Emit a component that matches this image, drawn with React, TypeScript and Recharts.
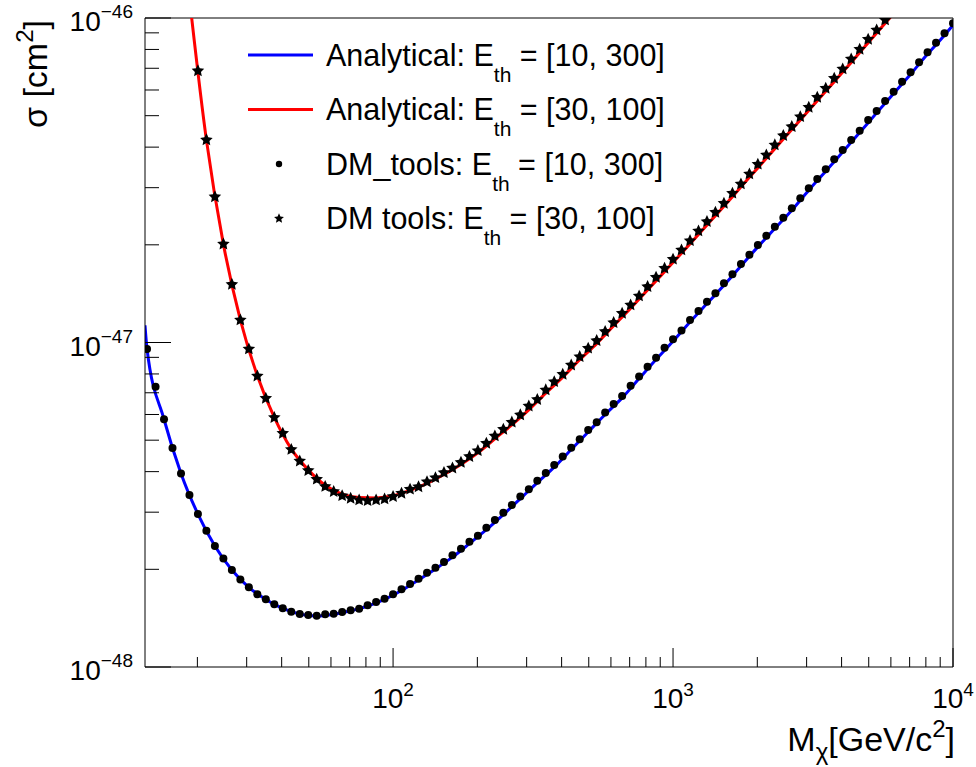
import {
  ComposedChart,
  Line,
  Scatter,
  XAxis,
  YAxis,
  Legend,
  Label,
  ReferenceLine,
} from 'recharts';

// cross sections are stored in units of 1e-48 cm^2

// masses (GeV/c^2) where the DM_tools points sit
const massGrid = [
  13.22, 14.18, 15.2, 16.3, 17.48, 18.74, 20.09, 21.54, 23.1, 24.77, 26.56, 28.48, 30.54, 32.75,
  35.11, 37.65, 40.37, 43.29, 46.42, 49.77, 53.37, 57.22, 61.36, 65.79, 70.55, 75.65, 81.11, 86.98,
  93.26, 100, 107.2, 115.0, 123.3, 132.2, 141.7, 152.0, 163.0, 174.8, 187.4, 200.9, 215.4, 231.0,
  247.7, 265.6, 284.8, 305.4, 327.5, 351.1, 376.5, 403.7, 432.9, 464.2, 497.7, 533.7, 572.2, 613.6,
  657.9, 705.5, 756.5, 811.1, 869.7, 932.6, 1000, 1072, 1150, 1233, 1322, 1417, 1520, 1630, 1748,
  1874, 2009, 2154, 2310, 2477, 2656, 2848, 3054, 3275, 3511, 3765, 4037, 4329, 4642, 4977, 5337,
  5722, 6136, 6579, 7055, 7565, 8111, 8697, 9326, 10000,
];

// DM_tools, E_th = [10, 300]
const dmToolsWide = [
  9.55, 7.31, 5.8, 4.73, 3.95, 3.39, 2.96, 2.63, 2.36, 2.16, 1.99, 1.86, 1.76, 1.675, 1.617, 1.561,
  1.517, 1.48, 1.457, 1.446, 1.439, 1.453, 1.46, 1.477, 1.495, 1.512, 1.549, 1.586, 1.623, 1.675,
  1.735, 1.803, 1.871, 1.952, 2.023, 2.106, 2.209, 2.315, 2.433, 2.539, 2.687, 2.838, 2.99, 3.155,
  3.35, 3.53, 3.75, 3.96, 4.19, 4.45, 4.74, 5.03, 5.37, 5.68, 6.09, 6.46, 6.84, 7.36, 7.85, 8.42,
  8.98, 9.64, 10.23, 10.88, 11.73, 12.51, 13.36, 14.18, 15.22, 16.23, 17.46, 18.63, 19.98, 21.34,
  22.75, 24.24, 25.92, 27.82, 29.87, 31.9, 34.18, 36.69, 39.19, 42.07, 44.96, 48.5, 51.7, 55.5,
  59.28, 63.64, 68.03, 73.03, 78.43, 83.94, 89.72, 96.3,
];

// DM tools, E_th = [30, 100] (starts at massGrid[6])
const dmToolsNarrow = [
  68.7, 42.1, 28.1, 20.1, 15.1, 11.73, 9.55, 7.88, 6.73, 5.87, 5.25, 4.68, 4.31, 4.03, 3.79, 3.6,
  3.47, 3.37, 3.31, 3.27, 3.254, 3.27, 3.294, 3.35, 3.43, 3.53, 3.59, 3.72, 3.83, 3.97, 4.1, 4.27,
  4.45, 4.64, 4.89, 5.15, 5.4, 5.68, 5.98, 6.37, 6.67, 7.14, 7.57, 7.98, 8.52, 9.04, 9.6, 10.13,
  10.8, 11.51, 12.3, 13.05, 13.91, 14.86, 15.88, 16.93, 18.05, 19.28, 20.59, 22.06, 23.57, 25.19,
  26.85, 28.83, 30.79, 33.06, 35.42, 37.82, 40.62, 43.39, 46.24, 49.63, 53.06, 56.97, 60.73, 65.19,
  69.62, 74.73, 80.08, 85.98, 91.84, 98.58,
];

// Analytical, E_th = [10, 300]
const wideLineMass = [
  13, 13.22, 15.2, 17.48, 20.09, 23.1, 26.56, 30.54, 35.11, 40.37, 46.42, 53.37, 61.36, 70.55, 81.11,
  93.26, 107.2, 123.3, 141.7, 163.0, 187.4, 215.4, 247.7, 284.8, 327.5, 376.5, 432.9, 497.7, 572.2,
  657.9, 756.5, 869.7, 1000, 1150, 1322, 1520, 1748, 2009, 2310, 2656, 3054, 3511, 4037, 4642, 5337,
  6136, 7055, 8111, 9326, 10000,
];
const wideLineSigma = [
  11.3, 9.55, 5.8, 3.95, 2.96, 2.36, 1.99, 1.76, 1.615, 1.515, 1.455, 1.436, 1.455, 1.49, 1.54,
  1.615, 1.72, 1.855, 2.005, 2.18, 2.4, 2.65, 2.95, 3.3, 3.7, 4.13, 4.68, 5.3, 6.0, 6.75, 7.74, 8.86,
  10.09, 11.57, 13.18, 15.01, 17.22, 19.71, 22.44, 25.57, 29.47, 33.72, 38.66, 44.35, 51.0, 58.5,
  67.1, 77.4, 88.5, 95.0,
];

// Analytical, E_th = [30, 100]
const narrowLineMass = [
  18.74, 21.54, 24.77, 28.48, 32.75, 37.65, 43.29, 49.77, 57.22, 65.79, 75.65, 86.98, 100, 115.0,
  132.2, 152.0, 174.8, 200.9, 231.0, 265.6, 305.4, 351.1, 403.7, 464.2, 533.7, 613.6, 705.5, 811.1,
  932.6, 1072, 1233, 1417, 1630, 1874, 2154, 2477, 2848, 3275, 3765, 4329, 4977, 5722, 6579,
];
const narrowLineSigma = [
  115, 42.1, 20.1, 11.75, 7.9, 5.88, 4.7, 4.05, 3.63, 3.41, 3.33, 3.32, 3.37, 3.5, 3.68, 3.92, 4.21,
  4.57, 5.05, 5.57, 6.2, 6.98, 7.82, 8.85, 9.92, 11.26, 12.75, 14.52, 16.53, 18.83, 21.52, 24.6,
  28.15, 32.28, 36.95, 42.37, 48.46, 55.62, 63.65, 72.97, 83.95, 96.3, 110.5,
];

const xTicks = [
  20, 30, 40, 50, 60, 70, 80, 90, 100, 200, 300, 400, 500, 600, 700, 800, 900, 1000, 2000, 3000, 4000,
  5000, 6000, 7000, 8000, 9000, 10000,
];
const yTicks = [1, 2, 3, 4, 5, 6, 7, 8, 9, 10, 20, 30, 40, 50, 60, 70, 80, 90, 100];

const legendRows = [
  { label: 'Analytical: E', range: ' = [10, 300]', kind: 'line', color: '#0000ff' },
  { label: 'Analytical: E', range: ' = [30, 100]', kind: 'line', color: '#ff0000' },
  { label: 'DM_tools: E', range: ' = [10, 300]', kind: 'dot', color: '#000000' },
  { label: 'DM tools: E', range: ' = [30, 100]', kind: 'star', color: '#000000' },
];

const pts = (ms: number[], ss: number[]) => ms.map((m, i) => ({ m, s: ss[i] }));

const wideLine = pts(wideLineMass, wideLineSigma);
const narrowLine = pts(narrowLineMass, narrowLineSigma);
const wideDots = pts(massGrid, dmToolsWide);
const narrowDots = pts(massGrid.slice(6, 6 + dmToolsNarrow.length), dmToolsNarrow);

function starPath(cx: number, cy: number, R: number, r: number) {
  let d = '';
  for (let k = 0; k < 10; k++) {
    const a = -Math.PI / 2 + (k * Math.PI) / 5;
    const rad = k % 2 === 0 ? R : r;
    d += (k === 0 ? 'M' : 'L') + (cx + rad * Math.cos(a)).toFixed(2) + ',' + (cy + rad * Math.sin(a)).toFixed(2);
  }
  return d + 'Z';
}

const Dot = (p: any) => <circle cx={p.cx} cy={p.cy} r={4} fill="#000" />;
const Star = (p: any) => <path d={starPath(p.cx, p.cy, 6.6, 3.2)} fill="#000" />;

const isMajor = (v: number) => Math.abs(Math.log10(v) - Math.round(Math.log10(v))) < 1e-6;

const XTick = (props: any) => {
  const { x, y, payload } = props;
  const v = payload.value;
  const major = isMajor(v);
  return (
    <g>
      <line x1={x} x2={x} y1={y} y2={y - (major ? 19 : 10)} stroke="#000" />
      {major && (
        <text x={x} y={y + 41} textAnchor="middle" fontSize={28} fill="#000">
          10
          <tspan dy={-12} fontSize={19}>
            {Math.round(Math.log10(v))}
          </tspan>
        </text>
      )}
    </g>
  );
};

const YTick = (props: any) => {
  const { x, y, payload } = props;
  const v = payload.value;
  const major = isMajor(v);
  return (
    <g>
      <line x1={x} x2={x + (major ? 26 : 14)} y1={y} y2={y} stroke="#000" />
      {major && (
        <text x={x - 12} y={y + 13} textAnchor="end" fontSize={28} fill="#000">
          10
          <tspan dy={-13} fontSize={19}>
            {'\u2212' + (48 - Math.round(Math.log10(v)))}
          </tspan>
        </text>
      )}
    </g>
  );
};

const XTitle = (props: any) => {
  const vb = props.viewBox;
  return (
    <text x={vb.x + vb.width + 2} y={vb.y + 84} textAnchor="end" fontSize={34} fill="#000">
      M
      <tspan dy={9} fontSize={24}>
        χ
      </tspan>
      <tspan dy={-9}>[GeV/c</tspan>
      <tspan dy={-14} fontSize={24}>
        2
      </tspan>
      <tspan dy={14}>]</tspan>
    </text>
  );
};

const YTitle = (props: any) => {
  const vb = props.viewBox;
  const x = vb.x + 47;
  const y = vb.y + 2;
  return (
    <text x={x} y={y} transform={`rotate(-90, ${x}, ${y})`} textAnchor="end" fontSize={34} fill="#000">
      σ [cm
      <tspan dy={-14} fontSize={24}>
        2
      </tspan>
      <tspan dy={14}>]</tspan>
    </text>
  );
};

const LegendBox = () => (
  <svg width={460} height={220}>
    {legendRows.map((row, i) => {
      const cy = 27 + i * 54.5;
      return (
        <g key={i}>
          {row.kind === 'line' && <line x1={8} x2={73} y1={cy} y2={cy} stroke={row.color} strokeWidth={3} />}
          {row.kind === 'dot' && <circle cx={39} cy={cy} r={3.2} fill="#000" />}
          {row.kind === 'star' && <path d={starPath(39, cy, 5.2, 2.4)} fill="#000" />}
          <text x={86} y={cy + 10.5} fontSize={30.5} fill="#000">
            {row.label}
            <tspan dy={16} fontSize={21}>
              th
            </tspan>
            <tspan dy={-16}>{row.range}</tspan>
          </text>
        </g>
      );
    })}
  </svg>
);

export default function App() {
  return (
    <div
      style={{
        position: 'absolute',
        left: 0,
        top: 0,
        width: 976,
        height: 767,
        background: '#fff',
        fontFamily: '"Liberation Sans", Arial, Helvetica, sans-serif',
      }}
    >
      <ComposedChart width={976} height={767} margin={{ top: 18, right: 23, bottom: 0, left: 0 }}>
        <XAxis
          type="number"
          dataKey="m"
          scale="log"
          domain={[13, 10000]}
          allowDataOverflow
          ticks={xTicks}
          interval={0}
          tick={<XTick />}
          tickLine={false}
          tickSize={0}
          tickMargin={0}
          height={100}
          axisLine={{ stroke: '#000' }}
        >
          <Label content={<XTitle />} />
        </XAxis>
        <YAxis
          type="number"
          scale="log"
          domain={[1, 100]}
          allowDataOverflow
          ticks={yTicks}
          interval={0}
          tick={<YTick />}
          tickLine={false}
          tickSize={0}
          tickMargin={0}
          width={145}
          axisLine={{ stroke: '#000' }}
        >
          <Label content={<YTitle />} />
        </YAxis>
        <ReferenceLine y={100} stroke="#000" />
        <ReferenceLine x={10000} stroke="#000" />
        <Line
          data={wideLine}
          dataKey="s"
          type="monotone"
          stroke="#0000ff"
          strokeWidth={3}
          dot={false}
          isAnimationActive={false}
        />
        <Line
          data={narrowLine}
          dataKey="s"
          type="monotone"
          stroke="#ff0000"
          strokeWidth={3}
          dot={false}
          isAnimationActive={false}
        />
        <Scatter data={wideDots} dataKey="s" fill="#000" shape={Dot} isAnimationActive={false} />
        <Scatter data={narrowDots} dataKey="s" fill="#000" shape={Star} isAnimationActive={false} />
        <Legend
          layout="vertical"
          align="center"
          verticalAlign="middle"
          content={() => <LegendBox />}
          wrapperStyle={{ left: 240, top: 28, width: 460, height: 220 }}
        />
      </ComposedChart>
    </div>
  );
}
